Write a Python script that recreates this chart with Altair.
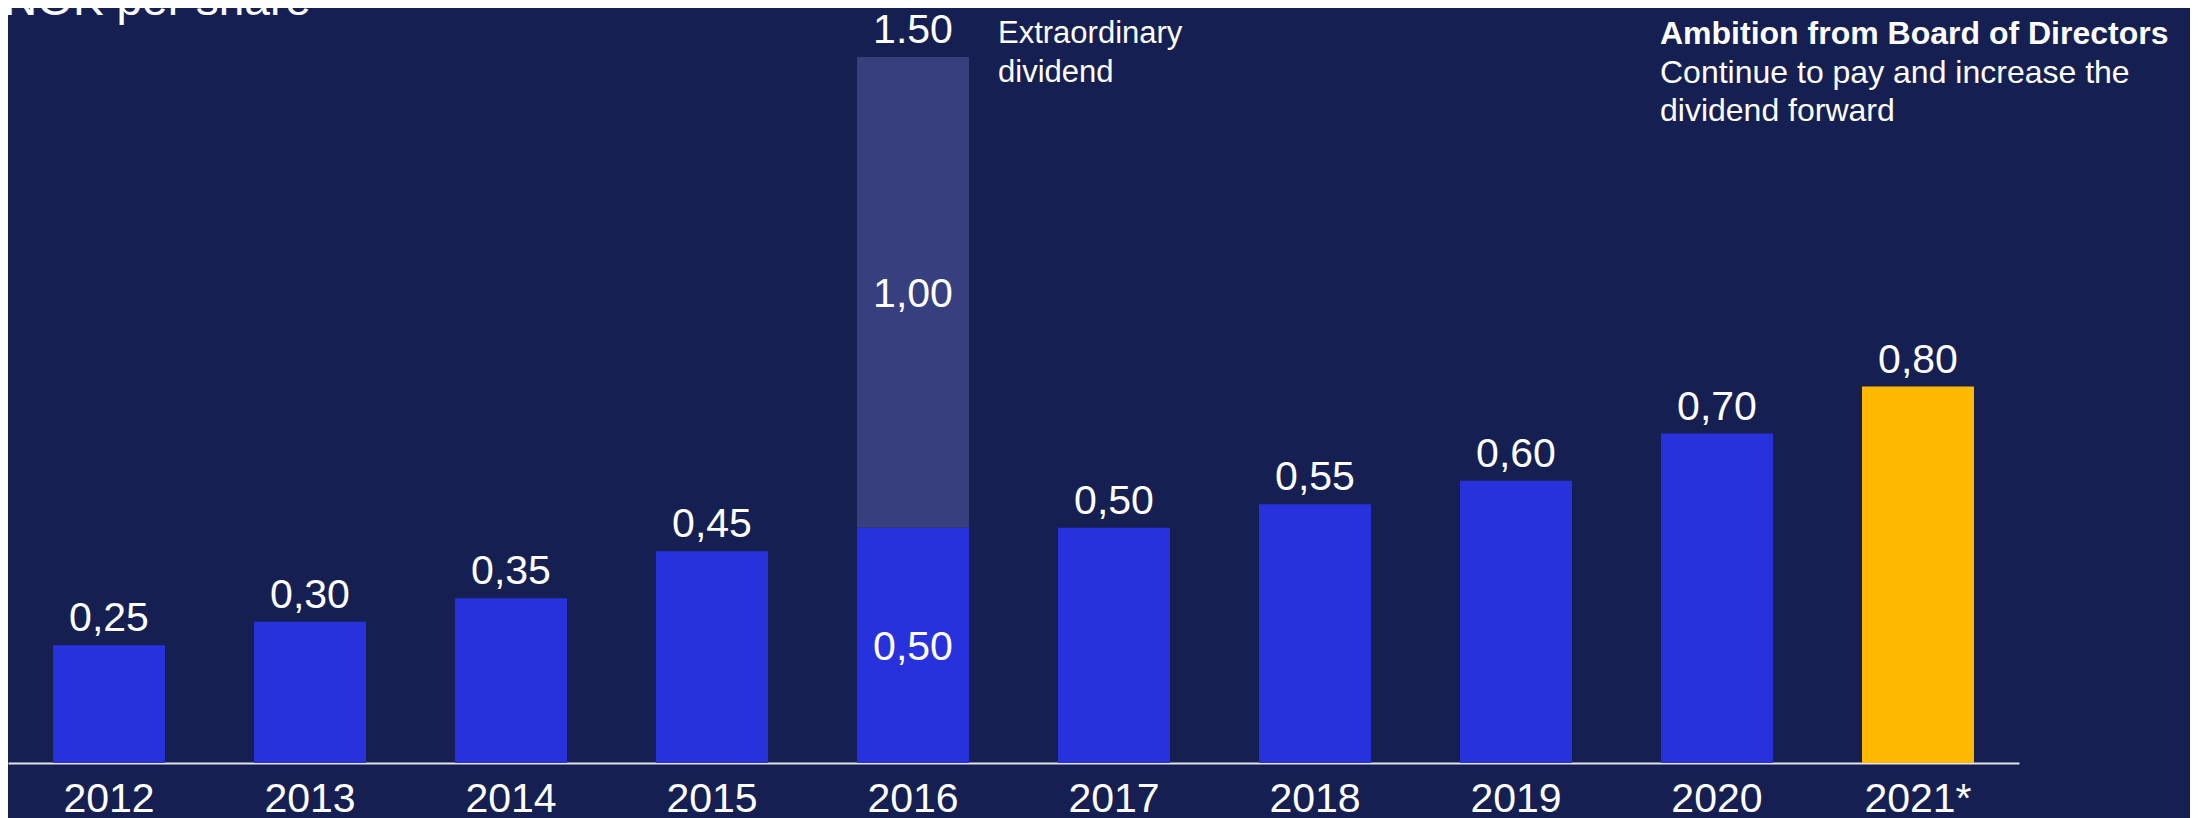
import altair as alt
import pandas as pd

# ---- data ----
years = ["2012", "2013", "2014", "2015", "2016", "2017", "2018", "2019", "2020", "2021*"]
ordinary = [0.25, 0.30, 0.35, 0.45, 0.50, 0.50, 0.55, 0.60, 0.70, 0.80]
extraordinary = [0, 0, 0, 0, 1.00, 0, 0, 0, 0, 0]
total_labels = ["0,25", "0,30", "0,35", "0,45", "1.50", "0,50", "0,55", "0,60", "0,70", "0,80"]
inner_years = ["2016", "2016"]
inner_mid = [0.25, 1.00]
inner_labels = ["0,50", "1,00"]
kinds = ["regular"] * 9 + ["forecast"]

title_text = "NOK per share"
extra_note = "Extraordinary\ndividend"
ambition_title = "Ambition from Board of Directors"
ambition_text = "Continue to pay and increase the\ndividend forward"

BG = "#161F51"
BLUE = "#2832DC"
EXTRA = "#373F7E"
YELLOW = "#FFB900"
FONT = "Liberation Sans"

rows = []
for i, y in enumerate(years):
    rows.append({"year": y, "seg": kinds[i], "value": ordinary[i], "ord": 0})
    if extraordinary[i] > 0:
        rows.append({"year": y, "seg": "extra", "value": extraordinary[i], "ord": 1})
bars_df = pd.DataFrame(rows)

tot_df = pd.DataFrame({
    "year": years,
    "total": [a + b for a, b in zip(ordinary, extraordinary)],
    "label": total_labels,
})
inner_df = pd.DataFrame({"year": inner_years, "mid": inner_mid, "label": inner_labels})

xs = alt.X("year:N", sort=years,
           scale=alt.Scale(paddingInner=0.4428, paddingOuter=0.224),
           axis=alt.Axis(title=None, labelAngle=0, ticks=False, tickSize=0,
                         labelPadding=16, labelFontSize=41, labelFont=FONT,
                         labelColor="white", domainColor="#E4E4EC", domainWidth=2,
                         grid=False))
yscale = alt.Scale(domain=[0, 1.6043], nice=False, zero=True)

bars = alt.Chart(bars_df).mark_bar().encode(
    x=xs,
    y=alt.Y("value:Q", stack="zero", scale=yscale, axis=None),
    color=alt.Color("seg:N", scale=alt.Scale(domain=["regular", "extra", "forecast"],
                                             range=[BLUE, EXTRA, YELLOW]), legend=None),
    order=alt.Order("ord:Q"),
)

tops = alt.Chart(tot_df).mark_text(
    dy=-14, baseline="alphabetic", align="center", fontSize=41, font=FONT, color="white"
).encode(x=alt.X("year:N", sort=years), y=alt.Y("total:Q", scale=yscale), text="label:N")

inner = alt.Chart(inner_df).mark_text(
    dy=3, baseline="middle", align="center", fontSize=41, font=FONT, color="white"
).encode(x=alt.X("year:N", sort=years), y=alt.Y("mid:Q", scale=yscale), text="label:N")

title = alt.Chart(pd.DataFrame({"t": [title_text]})).mark_text(
    align="left", baseline="alphabetic", fontSize=46, font=FONT, color="white"
).encode(x=alt.value(-4), y=alt.value(7), text="t:N")

note = alt.Chart(pd.DataFrame({"t": [extra_note]})).mark_text(
    align="left", baseline="alphabetic", fontSize=31, font=FONT, color="white",
    lineBreak="\n", lineHeight=39
).encode(x=alt.value(990), y=alt.value(35), text="t:N")

amb1 = alt.Chart(pd.DataFrame({"t": [ambition_title]})).mark_text(
    align="left", baseline="alphabetic", fontSize=32, font=FONT, fontWeight="bold", color="white"
).encode(x=alt.value(1652), y=alt.value(36), text="t:N")

amb2 = alt.Chart(pd.DataFrame({"t": [ambition_text]})).mark_text(
    align="left", baseline="alphabetic", fontSize=32, font=FONT, color="white",
    lineBreak="\n", lineHeight=38
).encode(x=alt.value(1652), y=alt.value(74.7), text="t:N")

chart = alt.layer(bars, tops, inner, title, note, amb1, amb2).properties(
    width=2011, height=755,
    autosize=alt.AutoSizeParams(type="none"),
    padding={"left": 0, "top": 0, "right": 171, "bottom": 56},
    background=BG,
).configure_view(stroke=None)

chart.save("out.html", embed_options={"renderer": "svg", "actions": False})
